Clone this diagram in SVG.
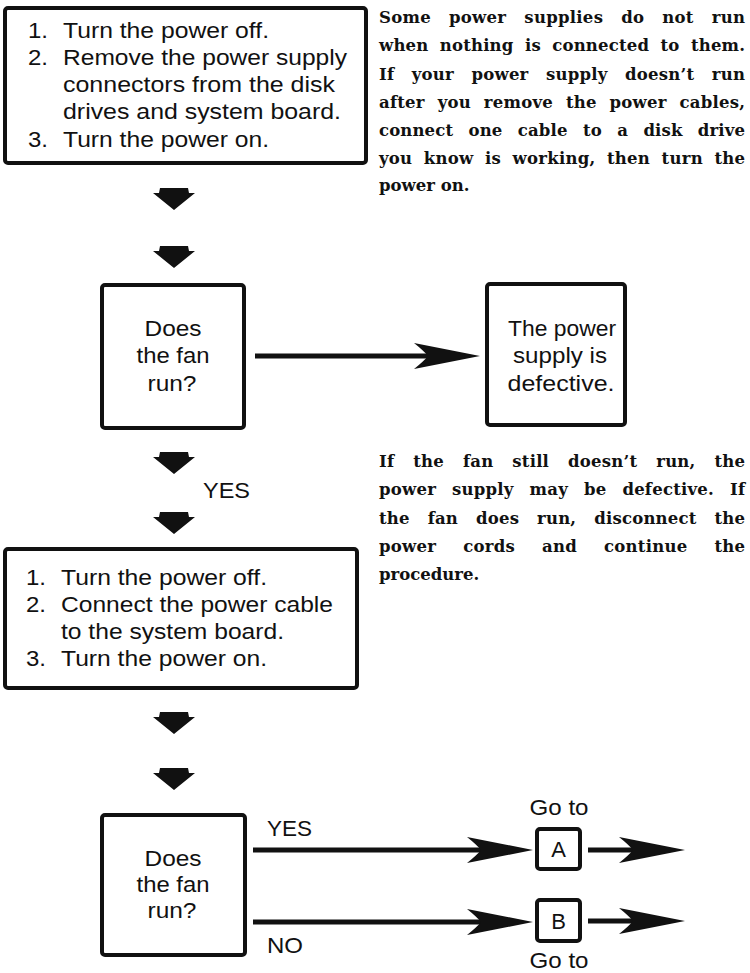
<svg xmlns="http://www.w3.org/2000/svg" width="750" height="973" viewBox="0 0 750 973">
<defs>
<style>
.box{fill:#fff;stroke:#111;stroke-width:4}
.t{font-family:"Liberation Sans",Arial,sans-serif;font-size:22px;fill:#111}
.m{text-anchor:middle}
.n{font-family:"DejaVu Serif","Liberation Serif",serif;font-weight:bold;font-size:16.5px;fill:#111}
.shaft{stroke:#111;stroke-width:5;fill:none}
</style>
<path id="down" d="M-14,0 H14 L15,5 H21 L0,22 L-21,5 H-15 Z" fill="#111"/>
<marker id="head" markerUnits="userSpaceOnUse" markerWidth="70" markerHeight="30" viewBox="0 0 70 30" refX="46" refY="15" orient="auto">
<path d="M66,15 L0,2 Q10,10 14,15 Q10,20 0,28 Z" fill="#111"/>
</marker>
</defs>
<rect width="750" height="973" fill="#fff"/>

<g id="step1">
<rect class="box" x="5" y="8" width="361" height="155" rx="3"/>
<text class="t" x="28" y="38" textLength="20" lengthAdjust="spacingAndGlyphs">1.</text>
<text class="t" x="63" y="38" textLength="206" lengthAdjust="spacingAndGlyphs">Turn the power off.</text>
<text class="t" x="28" y="65" textLength="20" lengthAdjust="spacingAndGlyphs">2.</text>
<text class="t" x="63" y="65" textLength="284" lengthAdjust="spacingAndGlyphs">Remove the power supply</text>
<text class="t" x="63" y="92" textLength="272" lengthAdjust="spacingAndGlyphs">connectors from the disk</text>
<text class="t" x="63" y="119" textLength="278" lengthAdjust="spacingAndGlyphs">drives and system board.</text>
<text class="t" x="28" y="147" textLength="20" lengthAdjust="spacingAndGlyphs">3.</text>
<text class="t" x="63" y="147" textLength="206" lengthAdjust="spacingAndGlyphs">Turn the power on.</text>
</g>

<g id="note1" class="n">
<text x="379" y="23" word-spacing="12" textLength="366" lengthAdjust="spacing">Some power supplies do not run</text>
<text x="379" y="51" word-spacing="5.5" textLength="366" lengthAdjust="spacing">when nothing is connected to them.</text>
<text x="379" y="80" word-spacing="11.5" textLength="366" lengthAdjust="spacing">If your power supply doesn’t run</text>
<text x="379" y="108" word-spacing="7" textLength="366" lengthAdjust="spacing">after you remove the power cables,</text>
<text x="379" y="136" word-spacing="9.5" textLength="366" lengthAdjust="spacing">connect one cable to a disk drive</text>
<text x="379" y="164" word-spacing="5.5" textLength="366" lengthAdjust="spacing">you know is working, then turn the</text>
<text x="379" y="191">power on.</text>
</g>

<g id="decision1">
<rect class="box" x="102" y="285" width="142" height="143" rx="3"/>
<text class="t m" x="173" y="336" textLength="57" lengthAdjust="spacingAndGlyphs">Does</text>
<text class="t m" x="173" y="363" textLength="73" lengthAdjust="spacingAndGlyphs">the fan</text>
<text class="t m" x="172" y="391" textLength="49" lengthAdjust="spacingAndGlyphs">run?</text>
</g>

<g id="defective">
<rect class="box" x="487" y="284" width="138" height="141" rx="3"/>
<text class="t m" x="562" y="336" textLength="108" lengthAdjust="spacingAndGlyphs">The power</text>
<text class="t m" x="560" y="363" textLength="94" lengthAdjust="spacingAndGlyphs">supply is</text>
<text class="t m" x="561" y="391" textLength="107" lengthAdjust="spacingAndGlyphs">defective.</text>
</g>

<g id="note2" class="n">
<text x="379" y="467" word-spacing="13" textLength="366" lengthAdjust="spacing">If the fan still doesn’t run, the</text>
<text x="379" y="495" word-spacing="10" textLength="366" lengthAdjust="spacing">power supply may be defective. If</text>
<text x="379" y="524" word-spacing="12" textLength="366" lengthAdjust="spacing">the fan does run, disconnect the</text>
<text x="379" y="552" word-spacing="21" textLength="366" lengthAdjust="spacing">power cords and continue the</text>
<text x="379" y="580">procedure.</text>
</g>

<g id="label-yes1">
<text class="t" x="203" y="498" textLength="47" lengthAdjust="spacingAndGlyphs">YES</text>
</g>

<g id="step2">
<rect class="box" x="5" y="549" width="352" height="139" rx="3"/>
<text class="t" x="26" y="585" textLength="20" lengthAdjust="spacingAndGlyphs">1.</text>
<text class="t" x="61" y="585" textLength="206" lengthAdjust="spacingAndGlyphs">Turn the power off.</text>
<text class="t" x="26" y="612" textLength="20" lengthAdjust="spacingAndGlyphs">2.</text>
<text class="t" x="61" y="612" textLength="272" lengthAdjust="spacingAndGlyphs">Connect the power cable</text>
<text class="t" x="61" y="639" textLength="223" lengthAdjust="spacingAndGlyphs">to the system board.</text>
<text class="t" x="26" y="666" textLength="20" lengthAdjust="spacingAndGlyphs">3.</text>
<text class="t" x="61" y="666" textLength="206" lengthAdjust="spacingAndGlyphs">Turn the power on.</text>
</g>

<g id="decision2">
<rect class="box" x="102" y="815" width="143" height="140" rx="3"/>
<text class="t m" x="173" y="866" textLength="57" lengthAdjust="spacingAndGlyphs">Does</text>
<text class="t m" x="173" y="892" textLength="73" lengthAdjust="spacingAndGlyphs">the fan</text>
<text class="t m" x="172" y="918" textLength="49" lengthAdjust="spacingAndGlyphs">run?</text>
</g>

<g id="gotoA">
<text class="t m" x="559" y="815" textLength="59" lengthAdjust="spacingAndGlyphs">Go to</text>
<rect class="box" x="537" y="829" width="43" height="40" rx="3"/>
<text class="t m" x="558.5" y="857">A</text>
</g>

<g id="gotoB">
<rect class="box" x="537" y="900" width="43" height="41" rx="3"/>
<text class="t m" x="558.5" y="929">B</text>
<text class="t m" x="559" y="968" textLength="59" lengthAdjust="spacingAndGlyphs">Go to</text>
</g>

<g id="connectors">
<use href="#down" x="174" y="188"/>
<use href="#down" x="174" y="246"/>
<use href="#down" x="174" y="452"/>
<use href="#down" x="174" y="512"/>
<use href="#down" x="174" y="712"/>
<use href="#down" x="174" y="768"/>
<line class="shaft" x1="255" y1="356" x2="460" y2="356" marker-end="url(#head)"/>
<line class="shaft" x1="253" y1="850" x2="513" y2="850" marker-end="url(#head)"/>
<line class="shaft" x1="253" y1="922" x2="513" y2="922" marker-end="url(#head)"/>
<line class="shaft" x1="588" y1="850" x2="665" y2="850" marker-end="url(#head)"/>
<line class="shaft" x1="588" y1="921" x2="665" y2="921" marker-end="url(#head)"/>
<text class="t" x="267" y="836" textLength="45" lengthAdjust="spacingAndGlyphs">YES</text>
<text class="t" x="267" y="953" textLength="36" lengthAdjust="spacingAndGlyphs">NO</text>
</g>
</svg>
